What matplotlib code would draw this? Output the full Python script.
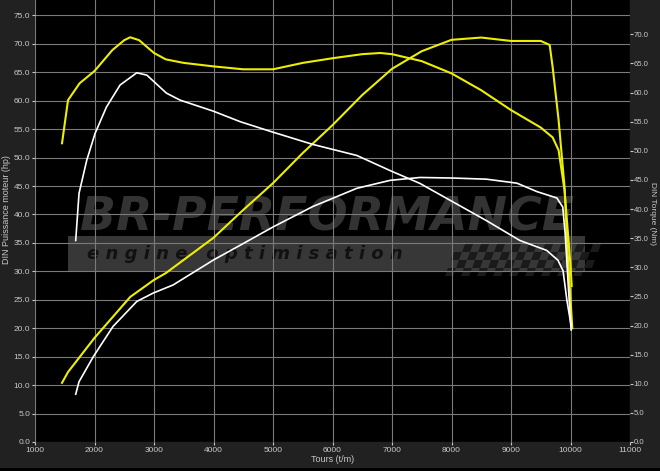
import matplotlib
matplotlib.use("Agg")
import matplotlib.pyplot as plt
from matplotlib.patches import Rectangle, Polygon

plt.rcParams['font.family'] = ['Liberation Sans', 'DejaVu Sans']

# yellow power (left axis, hp)
rpm_pw_y = [1454, 1555, 2000, 2600, 3000, 3200, 4000, 4500, 5000, 5500, 6000, 6500,
            7000, 7500, 8000, 8500, 9000, 9500, 9650, 9700, 9800, 9900, 9950, 10030]
pw_y = [10.4, 12.3, 18.3, 25.5, 28.5, 29.7, 35.9, 40.8, 45.5, 50.8, 55.7, 61.0,
        65.6, 68.7, 70.7, 71.1, 70.5, 70.5, 69.8, 65.9, 56.6, 44.8, 33.7, 20.0]

# yellow torque (right axis, Nm)
rpm_tq_y = [1454, 1555, 1750, 2000, 2300, 2500, 2600, 2750, 3000, 3200, 3500, 4000,
            4500, 5000, 5500, 6000, 6500, 6800, 7000, 7500, 8000, 8500, 9000, 9500,
            9700, 9800, 9900, 10000, 10020]
tq_y = [51.3, 58.7, 61.6, 63.7, 67.3, 69.0, 69.5, 69.0, 66.8, 65.7, 65.1, 64.5,
        64.0, 64.0, 65.1, 65.9, 66.6, 66.8, 66.6, 65.4, 63.3, 60.4, 57.0, 54.0,
        52.3, 50.1, 43.2, 30.3, 26.8]

# white power (left axis, hp)
rpm_pw_w = [1684, 1740, 1980, 2310, 2710, 2990, 3320, 4000, 4450, 5000, 5670, 6410,
            6970, 7470, 8030, 8590, 9100, 9440, 9770, 9870, 9910, 9960, 10010]
pw_w = [8.4, 10.6, 15.0, 20.3, 24.7, 26.2, 27.6, 32.0, 34.6, 37.8, 41.4, 44.6,
        46.0, 46.5, 46.4, 46.2, 45.5, 44.0, 42.9, 41.3, 36.7, 27.9, 19.7]

# white torque (right axis, Nm)
rpm_tq_w = [1684, 1740, 1870, 2010, 2200, 2430, 2710, 2880, 3210, 3440, 4000, 4450,
            5000, 5670, 6410, 6970, 7470, 8030, 8590, 9150, 9600, 9790, 9875, 9940, 10010]
tq_w = [34.6, 42.7, 48.4, 53.0, 57.5, 61.3, 63.4, 63.0, 59.9, 58.7, 56.8, 55.0,
        53.2, 51.1, 49.2, 46.6, 44.4, 41.2, 38.0, 34.6, 32.9, 31.2, 29.4, 24.3, 20.0]

xticks = list(range(1000, 11001, 1000))
left_ticks = [i * 5.0 for i in range(16)]
right_ticks = [i * 5.0 for i in range(15)]

bg = '#212121'
txt = '#c8c8c8'
yellow = '#eeee00'

fig = plt.figure(figsize=(6.6, 4.71), dpi=100, facecolor=bg)
# thin black strip along the bottom edge
fig.patches.append(Rectangle((0, 0), 1, 3 / 471, transform=fig.transFigure,
                             color='black', linewidth=0, zorder=0))
ax = fig.add_axes([35 / 660, 1 - 442 / 471, 595 / 660, 442 / 471])
ax.set_facecolor('black')
ax2 = ax.twinx()

ax.set_xlim(1000, 11000)
ax.set_ylim(0, 77.7)
ax2.set_ylim(0, 75.9)

ax.set_axisbelow(True)
ax.grid(True, color='#7a7a7a', linewidth=0.8)
ax.set_xticks(xticks)
ax.set_yticks(left_ticks)
ax.set_yticklabels(['%.1f' % v for v in left_ticks])
ax2.set_yticks(right_ticks)
ax2.set_yticklabels(['%.1f' % v for v in right_ticks])

ax.tick_params(colors=txt, labelsize=6, length=2.5, width=0.8, pad=1)
ax2.tick_params(colors=txt, labelsize=5.6, length=2, width=0.8, pad=0.5)
for a in (ax, ax2):
    for s in a.spines.values():
        s.set_visible(False)

ax.set_xlabel('Tours (t/m)', color=txt, fontsize=6.5, labelpad=1)
ax.set_ylabel('DIN Puissance moteur (hp)', color=txt, fontsize=6.5)
ax2.set_ylabel('DIN Torque (Nm)', color=txt, fontsize=6, rotation=270)
ax.yaxis.set_label_coords(-0.04, 0.527)
ax2.yaxis.set_label_coords(1.044, 0.518)

# watermark
tr = ax.transAxes
ax.add_patch(Rectangle((33 / 595, 1 - 271 / 442), 517 / 595, 35 / 442,
                       transform=tr, color='#373737', zorder=0.2, linewidth=0))
for r in range(4):
    for c in range(18):
        if (r + c) % 2 == 0:
            x0 = (410 + c * 8 + r * 3) / 595
            y0 = 1 - (276 - r * 8) / 442
            ax.add_patch(Polygon([(x0, y0), (x0 + 8 / 595, y0), (x0 + 11 / 595, y0 + 8 / 442),
                                  (x0 + 3 / 595, y0 + 8 / 442)], closed=True,
                                 transform=tr, color='#1a1a1a', zorder=0.3, linewidth=0))
ax.text(45 / 595, 1 - 218 / 442, 'BR-PERFORMANCE', transform=tr, fontsize=34,
        fontweight='bold', style='italic', family='DejaVu Sans', color='#333333',
        va='center', ha='left', zorder=0.25)
ax.text(52 / 595, 1 - 254 / 442, 'e n g i n e   o p t i m i s a t i o n', transform=tr,
        fontsize=13, fontweight='bold', style='italic', family='DejaVu Sans',
        color='#111111', va='center', ha='left', zorder=0.35)

ax.plot(rpm_pw_y, pw_y, color=yellow, linewidth=1.5, zorder=3)
ax.plot(rpm_pw_w, pw_w, color='white', linewidth=1.2, zorder=3)
ax2.plot(rpm_tq_y, tq_y, color=yellow, linewidth=1.5, zorder=3)
ax2.plot(rpm_tq_w, tq_w, color='white', linewidth=1.2, zorder=3)

fig.savefig('out.png', dpi=100, facecolor=bg)
